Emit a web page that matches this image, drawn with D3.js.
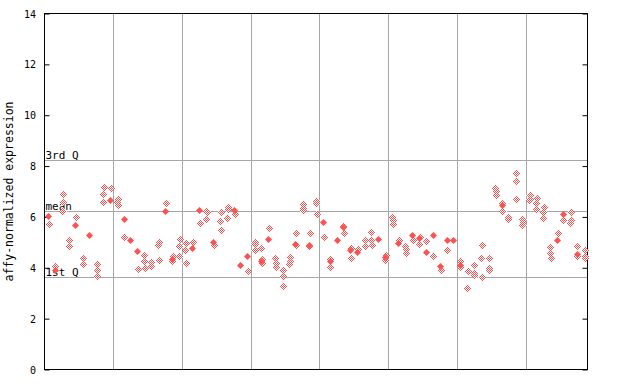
<!DOCTYPE html>
<html>
<head>
<meta charset="utf-8">
<script src="https://cdn.jsdelivr.net/npm/d3@7"></script>
<style>
  body { margin: 0; background: #fff; }
  text { font-family: "DejaVu Sans Mono", monospace; }
</style>
</head>
<body>
<div class="chart"></div>
<script>
// replicate values per sample (hatched diamonds)
const replicates = [
  [5.74], [4.07], [6.92, 6.57, 6.25], [5.08, 4.84], [5.98], [4.38, 4.13], [], [4.13, 3.93, 3.66],
  [7.16, 6.92, 6.57], [7.12], [6.72, 6.6, 6.45], [5.21], [], [3.97], [4.52, 4.25, 4.01], [4.21, 4.06],
  [5.03, 4.88, 4.29], [6.53], [4.48, 4.28], [5.15, 4.86, 4.48], [4.97, 4.68, 4.17], [5.03], [5.78],
  [6.25, 6.2, 5.9], [4.89], [6.19, 5.83, 5.5], [6.38, 6.3, 5.94], [6.13], [], [3.89], [5.02, 4.94, 4.68],
  [4.76, 4.35, 4.19], [5.58], [4.40, 4.17, 4.02], [3.93, 3.66, 3.30], [4.44, 4.25, 4.14], [5.35, 4.88],
  [6.49, 6.36, 6.28], [5.35, 4.85], [6.62, 6.54, 6.13], [5.23], [4.35, 4.02], [], [5.66, 5.35],
  [4.76, 4.40], [4.72], [5.11, 4.84], [5.39, 5.11, 4.88], [], [4.52, 4.29], [5.98, 5.87, 5.74], [5.08],
  [4.85, 4.72, 4.60], [5.11], [5.21, 4.92], [5.07], [4.48], [3.92], [4.68], [], [4.25, 4.04], [3.89, 3.22],
  [4.09, 3.78, 3.70], [4.88, 4.40, 3.62], [4.40, 4.01, 3.92], [7.12, 7.01, 6.88], [6.55, 6.25], [5.98, 5.90],
  [7.71, 7.43, 6.72], [5.90, 5.79, 5.67], [6.88, 6.72, 6.65], [6.76, 6.53, 6.33], [6.41, 6.19, 5.94],
  [4.80, 4.60, 4.40], [5.35], [5.86], [6.21, 5.86, 5.78], [4.84, 4.48], [4.68, 4.48, 4.40]
];
// solid diamonds per sample (null = none)
const solid = [
  6.04, 3.9, null, null, 5.69, null, 5.27, null, null, 6.66, null, 5.91, 5.10, 4.66, null, null,
  null, 6.24, 4.36, null, null, 4.78, 6.26, null, 5.0, null, null, 6.26, 4.09, 4.46, null,
  4.27, 5.12, null, null, null, 4.95, null, 4.90, null, 5.82, 4.25, 5.11, 5.6,
  4.69, 4.62, null, null, 5.12, 4.43, null, 4.99, null, 5.29, 5.16, 4.62, 5.29, 4.07, 5.10, 5.10, 4.10, null,
  null, null, null, null, 6.46, null, null, null, null, null, null, null, 5.10, 6.12, null, 4.56, null
];
const yTicks = [0, 2, 4, 6, 8, 10, 12, 14];
const refLines = [
  {name: "3rd Q", value: 8.22},
  {name: "mean", value: 6.22},
  {name: "1st Q", value: 3.62}
];
const groupSize = 10;

const width = 640, height = 384;
const margin = {top: 13.5, right: 52.5, bottom: 14.5, left: 44.5};
const red = "#ff5050";

const svg = d3.select(".chart").append("svg")
  .attr("width", width).attr("height", height);

const defs = svg.append("defs");
const pat = defs.append("pattern")
  .attr("id", "hatch").attr("patternUnits", "userSpaceOnUse")
  .attr("width", 2).attr("height", 2);
pat.append("rect").attr("width", 2).attr("height", 2).attr("fill", "#fff");
pat.append("rect").attr("x", 0).attr("y", 0).attr("width", 1).attr("height", 1).attr("fill", red);
pat.append("rect").attr("x", 1).attr("y", 1).attr("width", 1).attr("height", 1).attr("fill", red);

const samples = d3.range(replicates.length);
const x = d3.scaleBand().domain(samples).range([margin.left, width - margin.right]).padding(0);
const y = d3.scaleLinear().domain([0, 14]).range([height - margin.bottom, margin.top]);
const cx = i => Math.round(x(i) + x.bandwidth() / 2);
const cy = v => Math.round(y(v));

// vertical group separators
const seps = samples.filter(i => i > 0 && i % groupSize === 0);
svg.append("g").selectAll("line").data(seps).join("line")
  .attr("x1", i => Math.round(x(i)) + 0.5).attr("x2", i => Math.round(x(i)) + 0.5)
  .attr("y1", margin.top).attr("y2", height - margin.bottom)
  .attr("stroke", "#a6a6a6");

// reference lines
const ref = svg.append("g");
ref.selectAll("line").data(refLines).join("line")
  .attr("x1", margin.left).attr("x2", width - margin.right)
  .attr("y1", d => cy(d.value) + 0.5).attr("y2", d => cy(d.value) + 0.5)
  .attr("stroke", "#a6a6a6");
ref.selectAll("text").data(refLines).join("text")
  .attr("x", margin.left + 1).attr("y", d => cy(d.value) - 1)
  .attr("font-size", 11).attr("fill", "#000")
  .text(d => d.name);

// frame
svg.append("rect")
  .attr("x", margin.left).attr("y", margin.top)
  .attr("width", width - margin.right - margin.left)
  .attr("height", height - margin.bottom - margin.top)
  .attr("fill", "none").attr("stroke", "#000");

// axes
const left = svg.append("g").attr("transform", `translate(${margin.left},0)`)
  .call(d3.axisRight(y).tickValues(yTicks).tickSize(5).tickFormat(""));
left.select(".domain").remove();
left.selectAll("line").attr("stroke", "#000");
svg.append("g").selectAll("text").data(yTicks).join("text")
  .attr("x", 36).attr("y", d => y(d) + 4)
  .attr("text-anchor", "end").attr("font-size", 10)
  .text(d => d);

const right = svg.append("g").attr("transform", `translate(${width - margin.right},0)`)
  .call(d3.axisLeft(y).tickValues(yTicks).tickSize(5).tickFormat(""));
right.select(".domain").remove();
right.selectAll("line").attr("stroke", "#000");

svg.append("text")
  .attr("transform", `translate(13,${(margin.top + height - margin.bottom) / 2}) rotate(-90)`)
  .attr("text-anchor", "middle").attr("font-size", 11.5)
  .text("affy-normalized expression");

// points
const diamond = (px, py, r) => `M${px},${py - r}L${px + r},${py}L${px},${py + r}L${px - r},${py}Z`;

const openPts = samples.flatMap(i => replicates[i].map(v => ({i, v})));
svg.append("g").selectAll("path").data(openPts).join("path")
  .attr("d", d => diamond(cx(d.i) + 0.5, cy(d.v) + 0.5, 4))
  .attr("fill", "url(#hatch)")
  .attr("shape-rendering", "crispEdges");

const solidPts = samples.filter(i => solid[i] != null).map(i => ({i, v: solid[i]}));
svg.append("g").selectAll("path").data(solidPts).join("path")
  .attr("d", d => diamond(cx(d.i) + 0.5, cy(d.v) + 0.5, 3.5))
  .attr("fill", red);
</script>
</body>
</html>
